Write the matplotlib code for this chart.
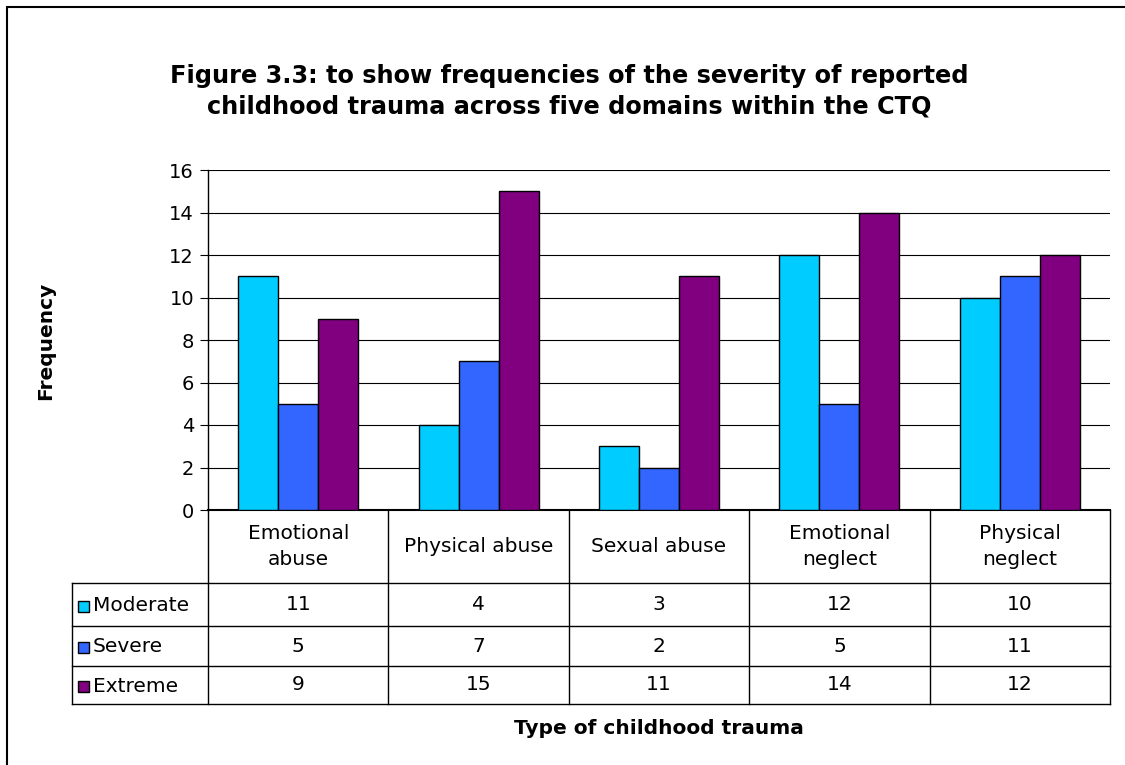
import numpy as np
import matplotlib.pyplot as plt
from matplotlib.patches import Rectangle

plt.rcParams['font.family'] = ['DejaVu Sans']

categories = ["Emotional\nabuse", "Physical abuse", "Sexual abuse", "Emotional\nneglect", "Physical\nneglect"]
series_names = ["Moderate", "Severe", "Extreme"]
moderate = [11, 4, 3, 12, 10]
severe = [5, 7, 2, 5, 11]
extreme = [9, 15, 11, 14, 12]
colors = ['#00CCFF', '#3366FF', '#800080']

W, H = 1125, 765
fig = plt.figure(figsize=(W / 100, H / 100), dpi=100)

# frame around chart
fig.add_artist(Rectangle((7 / W, -0.01), 1.2, (H - 7) / H + 0.01, transform=fig.transFigure,
                         fill=False, edgecolor='black', lw=1.5))

x0, x1, ytop, ybot = 208, 1110, 170, 510
ax = fig.add_axes([x0 / W, (H - ybot) / H, (x1 - x0) / W, (ybot - ytop) / H])

x = np.arange(len(categories))
bw = 0.222
for i, vals in enumerate([moderate, severe, extreme]):
    ax.bar(x + (i - 1) * bw, vals, bw, color=colors[i], edgecolor='black', lw=1, zorder=3)

ax.set_xlim(-0.5, len(categories) - 0.5)
ax.set_ylim(0, 16)
ax.set_yticks(range(0, 17, 2))
ax.tick_params(axis='y', labelsize=14, length=6, direction='out', pad=4)
ax.set_xticks([])
ax.grid(axis='y', color='black', lw=0.8, zorder=0)
for s in ['top', 'right']:
    ax.spines[s].set_visible(False)
ax.spines['left'].set_linewidth(1)
ax.spines['bottom'].set_linewidth(1.5)

# data table below the plot
tl, tb = 72, 704
tax = fig.add_axes([tl / W, (H - tb) / H, (x1 - tl) / W, (tb - ybot) / H])
colw = (x1 - x0) / len(categories)
tax.set_xlim(-0.5 - (x0 - tl) / colw, len(categories) - 0.5)
tax.set_ylim(tb, ybot)
tax.axis('off')
left = -0.5 - (x0 - tl) / colw
rows = [510, 583, 626, 666, 704]
lc = 'black'
# vertical lines for category columns
for k in range(len(categories) + 1):
    tax.plot([k - 0.5, k - 0.5], [rows[0], rows[-1]], color=lc, lw=1, clip_on=False)
tax.plot([left, left], [rows[1], rows[-1]], color=lc, lw=1, clip_on=False)
for r in rows[1:]:
    tax.plot([left, len(categories) - 0.5], [r, r], color=lc, lw=1, clip_on=False)

for k, c in enumerate(categories):
    tax.text(k, (rows[0] + rows[1]) / 2, c, ha='center', va='center', fontsize=14.5, linespacing=1.5)

for j, (name, vals) in enumerate(zip(series_names, [moderate, severe, extreme])):
    yc = (rows[j + 1] + rows[j + 2]) / 2
    sq = 11 / colw
    tax.add_patch(Rectangle((left + 6 / colw, yc + 7), sq, -11, facecolor=colors[j],
                            edgecolor='black', lw=1, clip_on=False))
    tax.text(left + 21 / colw, yc + 1, name, ha='left', va='center', fontsize=14.5)
    for k, v in enumerate(vals):
        tax.text(k, yc, str(v), ha='center', va='center', fontsize=14.5)

fig.text(569 / W, 1 - 91 / H, "Figure 3.3: to show frequencies of the severity of reported\n"
         "childhood trauma across five domains within the CTQ",
         ha='center', va='center', fontsize=17.3, fontweight='bold', linespacing=1.33)
fig.text(46 / W, 1 - 341 / H, "Frequency", rotation=90, ha='center', va='center',
         fontsize=14.5, fontweight='bold')
fig.text(659 / W, 1 - 729 / H, "Type of childhood trauma", ha='center', va='center',
         fontsize=14.5, fontweight='bold')

fig.savefig("out.png", dpi=100)
